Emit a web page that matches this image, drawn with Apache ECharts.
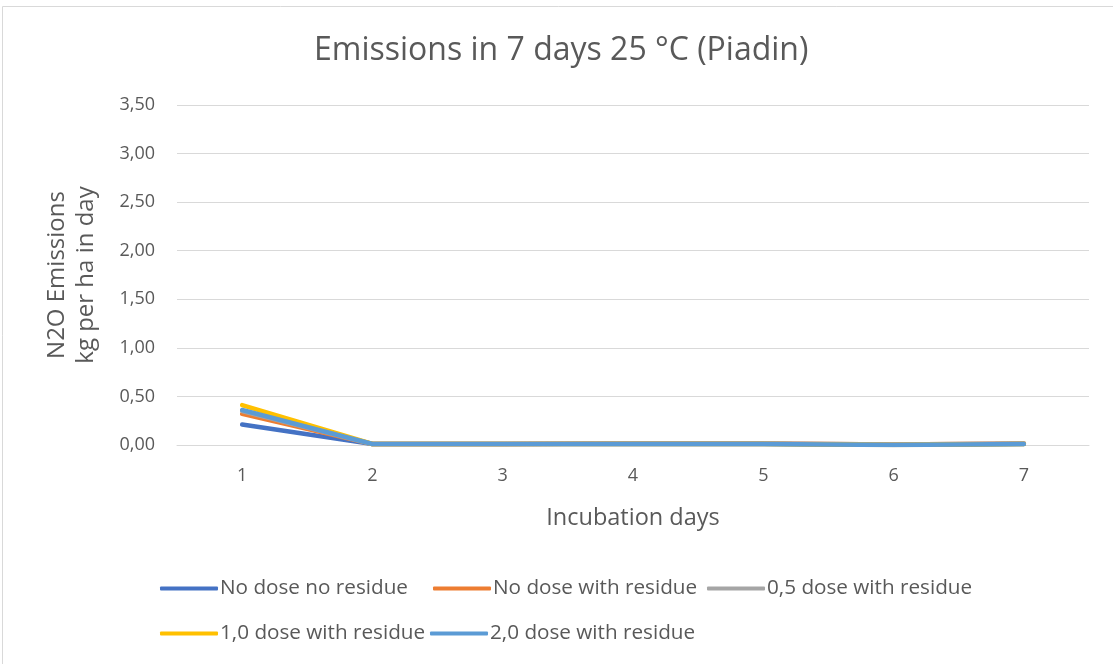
<!DOCTYPE html>
<html><head><meta charset="utf-8">
<script src="https://cdn.jsdelivr.net/npm/echarts@6/dist/echarts.min.js"></script>
<style>html,body{margin:0;padding:0;background:#fff}#c{width:1113px;height:664px}</style>
</head><body><div id="c"></div>
<script>
const categories = ['1','2','3','4','5','6','7'];
const seriesNames = ['No dose no residue','No dose with residue','0,5 dose with residue','1,0 dose with residue','2,0 dose with residue'];
const noDoseNoResidue = [0.21,0.01,0.01,0.01,0.01,0.00,0.01];
const noDoseWithResidue = [0.32,0.01,0.01,0.015,0.015,0.005,0.015];
const halfDoseWithResidue = [0.35,0.01,0.01,0.015,0.015,0.005,0.015];
const oneDoseWithResidue = [0.41,0.01,0.01,0.01,0.01,0.00,0.01];
const twoDoseWithResidue = [0.36,0.01,0.01,0.01,0.01,0.00,0.01];
const yTicks = ['0,00','0,50','1,00','1,50','2,00','2,50','3,00','3,50'];
const colors = ['#4472C4','#ED7D31','#A5A5A5','#FFC000','#5B9BD5'];
const values = [noDoseNoResidue,noDoseWithResidue,halfDoseWithResidue,oneDoseWithResidue,twoDoseWithResidue];
const FONT = "'Open Sans', sans-serif";
const chart = echarts.init(document.getElementById('c'));
const legendText = {fontFamily:FONT,fontSize:20.7,color:'#595959',padding:[0,0,0,-3]};
const legendSlots = [[155,573],[428,573],[702,573],[155,618],[425,618]];
chart.setOption({
  animation:false,
  color:colors,
  textStyle:{fontFamily:FONT,color:'#595959'},
  graphic:[{type:'rect',shape:{x:2.5,y:6.5,width:1200,height:700},style:{fill:'none',stroke:'#D9D9D9',lineWidth:1},silent:true}],
  title:{text:'Emissions in 7 days 25 °C (Piadin)',left:309,top:30,textStyle:{fontFamily:FONT,fontSize:32,fontWeight:'normal',color:'#595959'}},
  legend:seriesNames.map((n,i)=>({left:legendSlots[i][0],top:legendSlots[i][1],itemWidth:58,itemHeight:4,icon:'roundRect',data:[n],textStyle:legendText})),
  grid:{left:177,right:24,top:105,bottom:219,containLabel:false},
  xAxis:{type:'category',data:categories,boundaryGap:true,
    name:'Incubation days',nameLocation:'middle',nameGap:61,nameTextStyle:{fontFamily:FONT,fontSize:23.5,color:'#595959'},
    axisLine:{show:true,lineStyle:{color:'#D9D9D9'}},axisTick:{show:false},
    axisLabel:{fontFamily:FONT,fontSize:18,color:'#595959',margin:22}},
  yAxis:{type:'value',min:0,max:3.5,interval:0.5,
    name:'N2O Emissions\nkg per ha in day',nameLocation:'middle',nameGap:76,nameRotate:90,
    nameTextStyle:{fontFamily:FONT,fontSize:24,color:'#595959',lineHeight:29},
    axisLine:{show:false},axisTick:{show:false},
    splitLine:{lineStyle:{color:'#D9D9D9',width:1}},
    axisLabel:{fontFamily:FONT,fontSize:18,color:'#595959',margin:22,formatter:(v)=>yTicks[Math.round(v/0.5)]}},
  series:seriesNames.map((n,i)=>({name:n,type:'line',data:values[i],symbol:'none',smooth:false,
    lineStyle:{width:4.5,color:colors[i],cap:'round',join:'round'},itemStyle:{color:colors[i]}}))
});
</script></body></html>
